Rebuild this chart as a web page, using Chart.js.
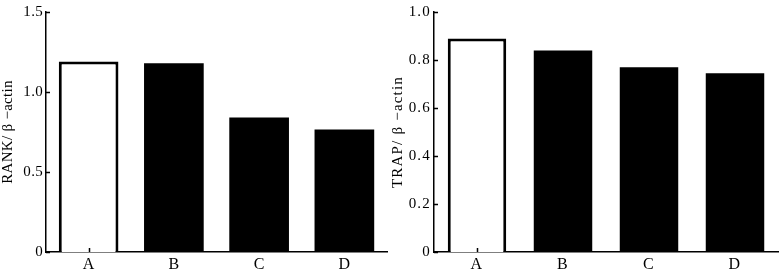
<!DOCTYPE html>
<html>
<head>
<meta charset="utf-8">
<script src="https://cdn.jsdelivr.net/npm/chart.js@4"></script>
<style>
  body { margin: 0; background: #fff; }
  #wrap { display: flex; width: 782px; height: 271px; }
</style>
</head>
<body>
<div id="wrap">
  <canvas id="rank" width="391" height="271"></canvas>
  <canvas id="trap" width="391" height="271"></canvas>
</div>
<script>
const categories = ['A', 'B', 'C', 'D'];
const rankValues = [1.19, 1.18, 0.84, 0.765];
const trapValues = [0.89, 0.84, 0.77, 0.745];
const rankTitle = 'RANK/ β −actin';
const trapTitle = 'TRAP/ β −actin';

const fillColors = ['#ffffff', '#000000', '#000000', '#000000'];
const edgeWidths = [3, 0, 0, 0];
const serif = 'Liberation Serif';

// little tick marks pointing into the plot, like the original figure
const inwardTicks = {
  id: 'inwardTicks',
  beforeLayout(chart, args, o) { chart.ctx.letterSpacing = o.spacing || '0px'; },
  beforeDraw(chart, args, o) { chart.ctx.letterSpacing = o.spacing || '0px'; },
  afterDatasetsDraw(chart) {
    const ctx = chart.ctx;
    const x = chart.scales.x, y = chart.scales.y, area = chart.chartArea;
    ctx.save();
    ctx.strokeStyle = '#000';
    ctx.lineWidth = 1.5;
    ctx.beginPath();
    y.ticks.forEach(t => {
      const py = Math.round(y.getPixelForValue(t.value)) + 0.5;
      ctx.moveTo(area.left, py);
      ctx.lineTo(area.left + 4, py);
    });
    x.ticks.forEach((t, i) => {
      const px = Math.round(x.getPixelForValue(i)) + 0.5;
      ctx.moveTo(px, area.bottom);
      ctx.lineTo(px, area.bottom - 4);
    });
    ctx.stroke();
    ctx.restore();
  }
};

function makeChart(id, values, title, max, step, opts) {
  return new Chart(document.getElementById(id), {
    type: 'bar',
    data: {
      labels: categories,
      datasets: [{
        data: values,
        backgroundColor: fillColors,
        borderColor: '#000',
        borderWidth: edgeWidths,
        borderSkipped: 'start',
        barPercentage: opts.barPct,
        categoryPercentage: 1
      }]
    },
    options: {
      responsive: false,
      devicePixelRatio: 1,
      animation: false,
      layout: { padding: { top: opts.top, right: 4, left: 0, bottom: 0 } },
      plugins: {
        legend: { display: false },
        tooltip: { enabled: false },
        inwardTicks: { spacing: opts.spacing }
      },
      scales: {
        x: {
          grid: { display: false, drawTicks: false },
          border: { color: '#000', width: 1.5 },
          ticks: { color: '#000', padding: 3, font: { family: serif, size: 16 } },
          afterFit: s => { s.height = 19; }
        },
        y: {
          min: 0,
          max: max,
          grid: { display: false, drawTicks: false },
          border: { color: '#000', width: 1.5 },
          ticks: {
            stepSize: step,
            color: '#000',
            padding: 3,
            font: { family: serif, size: 15 },
            callback: v => v === 0 ? '0' : v.toFixed(1)
          },
          title: {
            display: true,
            text: title,
            color: '#000',
            font: { family: serif, size: 15, lineHeight: 1 },
            padding: { top: opts.titlePad, bottom: 0 }
          },
          afterFit: s => { s.width = opts.axisX; }
        }
      }
    },
    plugins: [inwardTicks]
  });
}

makeChart('rank', rankValues, rankTitle, 1.5, 0.5, { top: 6, axisX: 46, titlePad: 1, barPct: 0.7, spacing: '0.3px' });
makeChart('trap', trapValues, trapTitle, 1.0, 0.2, { top: 7, axisX: 43, titlePad: 0, barPct: 0.68, spacing: '1.2px' });
</script>
</body>
</html>
